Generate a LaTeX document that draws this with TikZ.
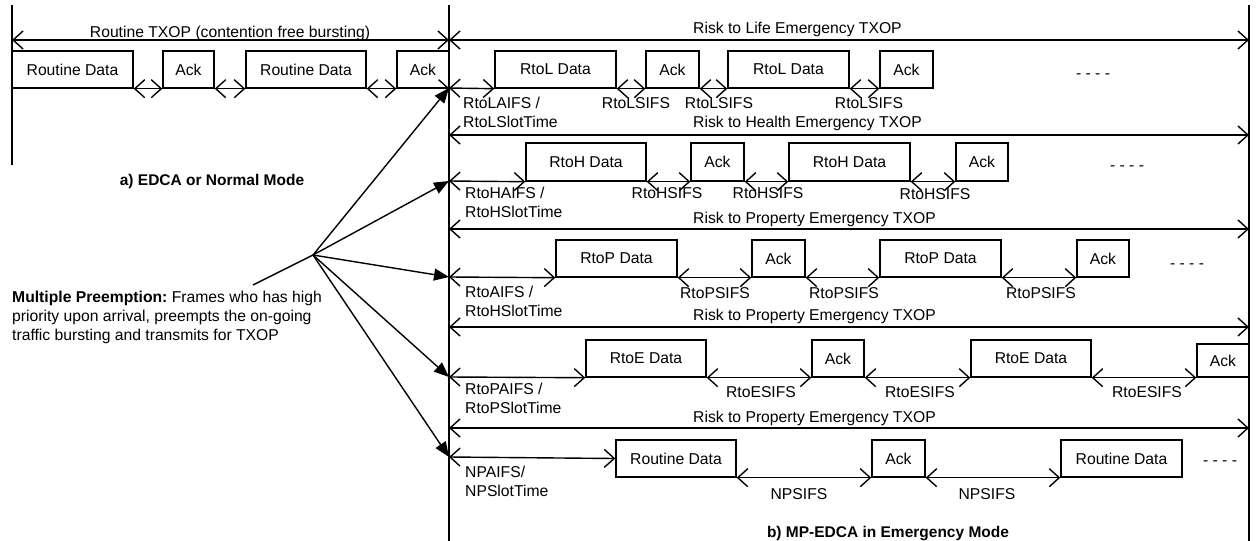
\documentclass[tikz,border=0pt]{standalone}
\usepackage{fontspec}
\setmainfont{Liberation Sans}
\usetikzlibrary{arrows.meta}

\tikzset{
  wire/.style={line width=1.4pt},
  rail/.style={line width=2pt},
  Bb/.tip={Straight Barb[length=10pt,width=18pt]},
  span/.style={wire, Bb-Bb},
  push/.style={wire, -{Triangle[length=15pt,width=12pt]}},
  pktbox/.style={draw, line width=1.4pt, inner sep=0pt, rectangle},
  lbl/.style={inner sep=0pt, text height=11.3pt, text depth=0pt},
  lbltwo/.style={inner sep=0pt, align=left, anchor=west},
  heading/.style={lbl, font=\fontsize{15.5}{19}\selectfont\bfseries},
}

% packet box: name, left x, right x, top y, bottom y, text
\newcommand\pkt[6]{%
  \node[pktbox, minimum width={(#3-#2)*1pt}, minimum height={(#5-#4)*1pt}]
    (#1) at ({(#2+#3)/2},{(#4+#5)/2}) {#6};}

\begin{document}
\begin{tikzpicture}[x=1pt,y=-1pt, font=\fontsize{15.7}{19}\selectfont]
\useasboundingbox (0,0) rectangle (1259,541);
\fill[white] (0,0) rectangle (1259,541);

% time rails
\coordinate (lt) at (12,5);    \coordinate (lb) at (12,165);
\coordinate (mt) at (449,5);   \coordinate (mb) at (449,541);
\coordinate (rt) at (1249,5);  \coordinate (rb) at (1249,541);
\draw[rail] (lt) -- (lb);
\draw[rail] (mt) -- (mb);
\draw[rail] (rt) -- (rb);

% ---------- a) normal mode: routine bursting ----------
\coordinate (a0l) at (12,40); \coordinate (a0r) at (449,40);
\draw[span] (a0l) -- (a0r);
\node[lbl] (t0) at (230,32) {Routine TXOP (contention free bursting)};
\pkt{r1}{12}{133}{51}{88}{Routine Data}
\pkt{ra1}{163}{214}{51}{88}{Ack}
\pkt{r2}{246}{366}{51}{88}{Routine Data}
\pkt{ra2}{397}{449}{51}{88}{Ack}
\draw[span] (r1.south east) -- (ra1.south west);
\draw[span] (ra1.south east) -- (r2.south west);
\draw[span] (r2.south east) -- (ra2.south west);
\draw[wire,-Bb] (ra2.south west) -- (ra2.south east);
\node[heading] (ta) at (212,180) {a) EDCA or Normal Mode};

% ---------- b) emergency mode ----------
% TXOP spans
\coordinate (s1) at (449,40);  \coordinate (e1) at (1249,40);
\coordinate (s2) at (449,135); \coordinate (e2) at (1249,135);
\coordinate (s3) at (449,229); \coordinate (e3) at (1249,229);
\coordinate (s4) at (449,327); \coordinate (e4) at (1249,327);
\coordinate (s5) at (449,428); \coordinate (e5) at (1249,428);
\draw[span] (s1) -- (e1);
\draw[span] (s2) -- (e2);
\draw[span] (s3) -- (e3);
\draw[span] (s4) -- (e4);
\draw[span] (s5) -- (e5);
\node[lbl, anchor=west] (t1) at (693,28)  {Risk to Life Emergency TXOP};
\node[lbl, anchor=west] (t2) at (693,122) {Risk to Health Emergency TXOP};
\node[lbl, anchor=west] (t3) at (693,218) {Risk to Property Emergency TXOP};
\node[lbl, anchor=west] (t4) at (693,315) {Risk to Property Emergency TXOP};
\node[lbl, anchor=west] (t5) at (693,417) {Risk to Property Emergency TXOP};

% preemption points on the middle rail
\coordinate (b1) at (449,88);
\coordinate (b2) at (449,181);
\coordinate (b3) at (449,277);
\coordinate (b4) at (449,377);
\coordinate (b5) at (449,457);

% risk to life
\pkt{ld1}{495}{616}{51}{88}{RtoL Data}
\pkt{la1}{646}{699}{51}{88}{Ack}
\pkt{ld2}{728}{849}{51}{88}{RtoL Data}
\pkt{la2}{880}{933}{51}{88}{Ack}
\draw[span] (b1) -- (ld1.south west);
\draw[span] (ld1.south east) -- (la1.south west);
\draw[span] (la1.south east) -- (ld2.south west);
\draw[span] (ld2.south east) -- (la2.south west);
\node[lbltwo] (lw) at (463,112.5) {RtoLAIFS /\\RtoLSlotTime};
\node[lbl] (ls1) at (636,103) {RtoLSIFS};
\node[lbl] (ls2) at (719,103) {RtoLSIFS};
\node[lbl] (ls3) at (869,103) {RtoLSIFS};
\node[lbl] (lm) at (1093,73) {- - - -};

% risk to health
\pkt{hd1}{526}{646}{143}{181}{RtoH Data}
\pkt{ha1}{691}{744}{143}{181}{Ack}
\pkt{hd2}{789}{910}{143}{181}{RtoH Data}
\pkt{ha2}{956}{1008}{143}{181}{Ack}
\draw[span] (b2) -- (hd1.south west);
\draw[span] (hd1.south east) -- (ha1.south west);
\draw[span] (ha1.south east) -- (hd2.south west);
\draw[span] (hd2.south east) -- (ha2.south west);
\node[lbltwo] (hw) at (465,202.5) {RtoHAIFS /\\RtoHSlotTime};
\node[lbl] (hs1) at (667,193) {RtoHSIFS};
\node[lbl] (hs2) at (768,193) {RtoHSIFS};
\node[lbl] (hs3) at (935,194) {RtoHSIFS};
\node[lbl] (hm) at (1127,165) {- - - -};

% risk to property
\pkt{pd1}{556}{677}{240}{277}{RtoP Data}
\pkt{pa1}{752}{805}{240}{277}{Ack}
\pkt{pd2}{880}{1001}{240}{277}{RtoP Data}
\pkt{pa2}{1077}{1129}{240}{277}{Ack}
\draw[span] (b3) -- (pd1.south west);
\draw[span] (pd1.south east) -- (pa1.south west);
\draw[span] (pa1.south east) -- (pd2.south west);
\draw[span] (pd2.south east) -- (pa2.south west);
\node[lbltwo] (pw) at (465,301) {RtoAIFS /\\RtoHSlotTime};
\node[lbl] (ps1) at (715,293) {RtoPSIFS};
\node[lbl] (ps2) at (844,293) {RtoPSIFS};
\node[lbl] (ps3) at (1041,293) {RtoPSIFS};
\node[lbl] (pm) at (1187,263) {- - - -};

% risk to environment
\pkt{ed1}{586}{706}{340}{377}{RtoE Data}
\pkt{ea1}{812}{864}{340}{377}{Ack}
\pkt{ed2}{971}{1091}{340}{377}{RtoE Data}
\pkt{ea2}{1197}{1249}{344}{377}{Ack}
\draw[span] (b4) -- (ed1.south west);
\draw[span] (ed1.south east) -- (ea1.south west);
\draw[span] (ea1.south east) -- (ed2.south west);
\draw[span] (ed2.south east) -- (ea2.south west);
\node[lbltwo] (ew) at (465,398) {RtoPAIFS /\\RtoPSlotTime};
\node[lbl] (es1) at (761,392) {RtoESIFS};
\node[lbl] (es2) at (920,392) {RtoESIFS};
\node[lbl] (es3) at (1147,392) {RtoESIFS};

% non-priority traffic
\pkt{nd1}{616}{736}{440}{477}{Routine Data}
\pkt{na1}{872}{925}{440}{477}{Ack}
\pkt{nd2}{1061}{1182}{440}{477}{Routine Data}
\draw[span] (b5) -- (nd1.west);
\draw[span] (nd1.south east) -- (na1.south west);
\draw[span] (na1.south east) -- (nd2.south west);
\node[lbltwo] (nw) at (465,481) {NPAIFS/\\NPSlotTime};
\node[lbl] (ns1) at (799,494) {NPSIFS};
\node[lbl] (ns2) at (987,494) {NPSIFS};
\node[lbl] (nm) at (1220,460) {- - - -};

\node[heading] (tb) at (888,532) {b) MP-EDCA in Emergency Mode};

% ---------- preemption fan ----------
\node[inner sep=0pt, anchor=west] (mp) at (12,318) {\frenchspacing
  \begin{tabular}{@{}l@{}}
  \textbf{Multiple Preemption:} Frames who has high\\
  priority upon arrival, preempts the on-going\\
  traffic bursting and transmits for TXOP
  \end{tabular}};
\coordinate (fan) at (313,255);
\coordinate (fantail) at (253,285);
\draw[wire] (fantail) -- (fan);
\draw[push] (fan) -- (b1);
\draw[push] (fan) -- (b2);
\draw[push] (fan) -- (b3);
\draw[push] (fan) -- (b4);
\draw[push] (fan) -- (b5);
\end{tikzpicture}
\end{document}
